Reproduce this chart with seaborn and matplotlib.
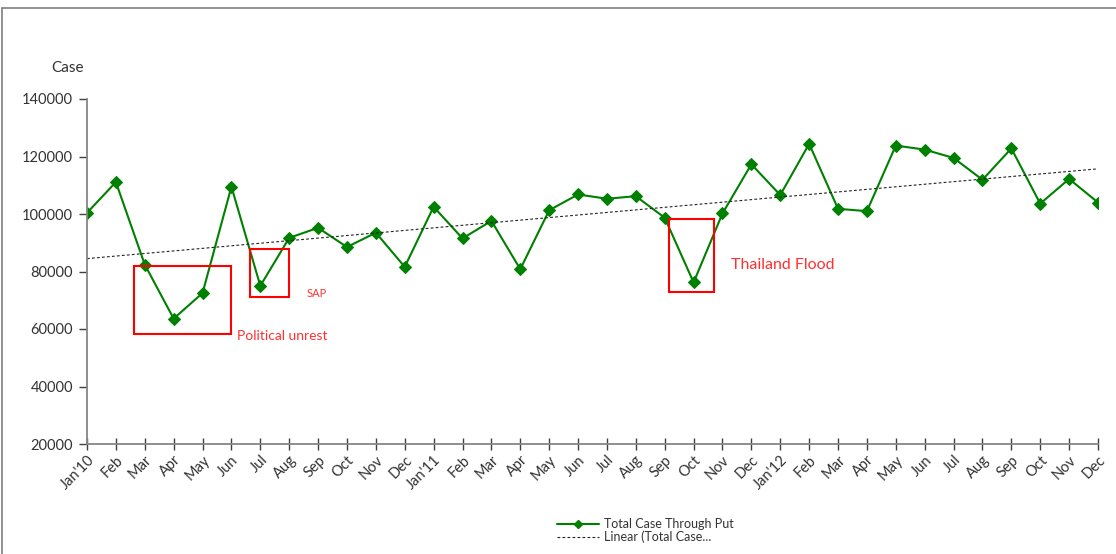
import numpy as np
import pandas as pd
import matplotlib.pyplot as plt
import seaborn as sns
from matplotlib.patches import Rectangle
from matplotlib.lines import Line2D

# month labels on the x axis
month_labels = ["Jan'10", "Feb", "Mar", "Apr", "May", "Jun", "Jul", "Aug", "Sep", "Oct", "Nov", "Dec",
                "Jan'11", "Feb", "Mar", "Apr", "May", "Jun", "Jul", "Aug", "Sep", "Oct", "Nov", "Dec",
                "Jan'12", "Feb", "Mar", "Apr", "May", "Jun", "Jul", "Aug", "Sep", "Oct", "Nov", "Dec"]

# total case through put per month
total_case = [100400, 111100, 82400, 63600, 72500, 109500, 75000, 91700, 95200, 88500, 93500, 81600,
              102500, 91500, 97600, 80800, 101300, 106800, 105300, 106200, 98700, 76200, 100200, 117300,
              106600, 124400, 101800, 101000, 123800, 122400, 119500, 111900, 122800, 103600, 112200, 104000]

y_ticks = [20000, 40000, 60000, 80000, 100000, 120000, 140000]

sns.set_style("white")
plt.rcParams['font.family'] = ['Lato', 'DejaVu Sans']

df = pd.DataFrame({'mes': np.arange(len(total_case)), 'casos': total_case})

fig = plt.figure(figsize=(11.16, 5.54), dpi=100)
ax = fig.add_axes([87 / 1116, 1 - 444 / 554, (1098 - 87) / 1116, (444 - 99) / 554])

sns.lineplot(data=df, x='mes', y='casos', ax=ax, color='#008000', linewidth=1.5,
             marker='D', markersize=6, markeredgecolor='#008000', label='Total Case Through Put')

# linear trend line (least squares over the series)
coef = np.polyfit(df['mes'], df['casos'], 1)
trend = np.polyval(coef, df['mes'])
ax.plot(df['mes'], trend, color='#222222', linewidth=0.8, linestyle=(0, (2.5, 2)))

ax.set_xlim(0, len(total_case) - 1)
ax.set_ylim(20000, 140000)
ax.set_yticks(y_ticks)
ax.set_yticklabels([str(v) for v in y_ticks])
ax.set_xticks(df['mes'])
ax.set_xticklabels(month_labels, rotation=45, ha='right', rotation_mode='anchor')
ax.set_xlabel('')
ax.set_ylabel('')

for s in ['top', 'right']:
    ax.spines[s].set_visible(False)
for s in ['left', 'bottom']:
    ax.spines[s].set_color('#868686')
    ax.spines[s].set_linewidth(1.3)
ax.tick_params(axis='y', direction='out', length=6, width=1, color='#404040',
               labelsize=10.5, labelcolor='#333333', pad=4, left=True)
ax.tick_params(axis='x', direction='inout', length=9, width=1, color='#404040',
               labelsize=10.5, labelcolor='#333333', pad=2, bottom=True)

ax.text(-0.035, 1.09, 'Case', transform=ax.transAxes, fontsize=11, color='#333333',
        ha='left', va='center')

# annotation boxes
caixas = [
    (1.63, 58100, 3.36, 23650),
    (5.64, 71300, 1.35, 16700),
    (20.15, 72700, 1.56, 25700),
]
for x0, y0, w, h in caixas:
    ax.add_patch(Rectangle((x0, y0), w, h, fill=False, edgecolor='#FF0000', linewidth=1.5, zorder=5))

ax.text(5.2, 57400, 'Political unrest', color='#FF3030', fontsize=10, ha='left', va='center')
ax.text(7.6, 72200, 'SAP', color='#FF3030', fontsize=8, ha='left', va='center')
ax.text(22.3, 82400, 'Thailand Flood', color='#FF3030', fontsize=11.5, ha='left', va='center')

ax.get_legend().remove()
handles = [
    Line2D([0, 1, 2], [0, 0, 0], color='#008000', linewidth=1.5, marker='D', markersize=4, markevery=[1]),
    Line2D([], [], color='#222222', linewidth=0.8, linestyle=(0, (2.5, 2))),
]
fig.legend(handles, ['Total Case Through Put', 'Linear (Total Case...'],
           loc='upper left', bbox_to_anchor=(551 / 1116, 1 - 512 / 554), frameon=False,
           fontsize=9, handlelength=3.3, handletextpad=0.4, labelspacing=0.05, borderpad=0,
           labelcolor='#333333')

# outer chart border
fig.add_artist(Line2D([2 / 1116, 2 / 1116], [0, 1 - 8 / 554], transform=fig.transFigure,
                      color='#7f7f7f', linewidth=1.2))
fig.add_artist(Line2D([2 / 1116, 1], [1 - 8 / 554, 1 - 8 / 554], transform=fig.transFigure,
                      color='#7f7f7f', linewidth=1.2))

fig.savefig('out.png', dpi=100)
